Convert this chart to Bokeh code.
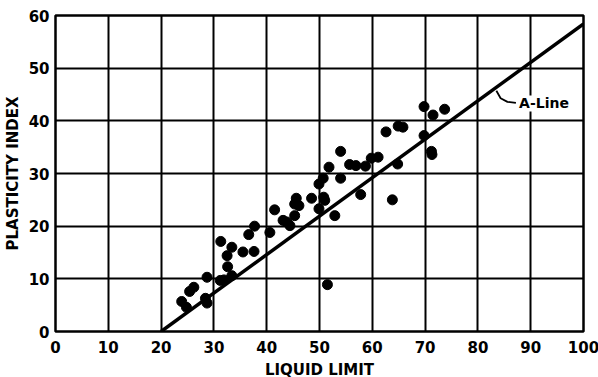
from bokeh.plotting import figure
from bokeh.models import Range1d, FixedTicker, Label
from bokeh.embed import file_html
from bokeh.resources import INLINE

# Data
liquid_limit = [23.9, 24.8, 25.4, 26.2, 28.7, 28.7, 28.4, 31.3, 31.9, 31.2, 33.4,
                32.5, 32.6, 33.4, 35.5, 37.6, 36.6, 37.7, 40.6, 41.5, 43.1, 43.8,
                44.4, 45.3, 45.3, 45.6, 46.1, 48.5, 49.9, 50.7, 50.8, 51.0, 49.9,
                52.9, 51.8, 54.0, 54.0, 55.7, 56.9, 58.7, 57.8, 59.8, 61.1, 62.6,
                64.9, 65.8, 64.8, 63.8, 51.5, 69.8, 71.5, 73.7, 69.8, 71.2, 71.3]
plasticity_index = [5.7, 4.6, 7.6, 8.4, 10.3, 5.4, 6.3, 17.1, 9.8, 9.7, 10.6,
                    14.4, 12.3, 16.0, 15.1, 15.2, 18.4, 20.0, 18.8, 23.1, 21.1, 20.8,
                    20.1, 22.0, 24.2, 25.3, 23.9, 25.3, 28.0, 29.1, 25.5, 24.9, 23.3,
                    22.0, 31.2, 34.2, 29.1, 31.7, 31.5, 31.4, 26.0, 32.9, 33.1, 37.9,
                    39.0, 38.8, 31.8, 25.0, 8.9, 42.7, 41.1, 42.2, 37.2, 34.2, 33.6]
aline_ll = [20, 100]
aline_pi = [0, 58.4]
x_ticks = [0, 10, 20, 30, 40, 50, 60, 70, 80, 90, 100]
y_ticks = [0, 10, 20, 30, 40, 50, 60]
callout_ll = [83.5, 84.3, 85.6, 87.2]
callout_pi = [45.7, 44.3, 43.6, 43.4]

FONT = "DejaVu Sans"

p = figure(frame_width=528, frame_height=316, output_backend="svg",
           toolbar_location=None, x_range=Range1d(0, 100), y_range=Range1d(0, 60),
           min_border_left=46, min_border_right=16, min_border_top=15,
           min_border_bottom=38)
p.background_fill_color = "white"
p.border_fill_color = "white"
p.outline_line_color = "black"
p.outline_line_width = 2.5

p.xaxis.ticker = FixedTicker(ticks=x_ticks)
p.yaxis.ticker = FixedTicker(ticks=y_ticks)
for ax in (p.xaxis, p.yaxis):
    ax.axis_line_color = None
    ax.major_tick_out = 0
    ax.major_tick_in = 0
    ax.minor_tick_out = 0
    ax.minor_tick_in = 0
    ax.major_label_text_font = FONT
    ax.major_label_text_font_style = "bold"
    ax.major_label_text_font_size = "15px"
    ax.major_label_text_color = "black"
    ax.axis_label_text_font = FONT
    ax.axis_label_text_font_style = "bold"
    ax.axis_label_text_font_size = "15px"
    ax.axis_label_text_color = "black"
p.xaxis.axis_label = "LIQUID LIMIT"
p.yaxis.axis_label = "PLASTICITY INDEX"
p.xaxis.major_label_standoff = 9
p.yaxis.major_label_standoff = 6
p.xaxis.axis_label_standoff = 5
p.yaxis.axis_label_standoff = 4

p.xgrid.grid_line_color = "black"
p.ygrid.grid_line_color = "black"
p.xgrid.grid_line_width = 2
p.ygrid.grid_line_width = 2
p.xgrid.grid_line_alpha = 1
p.ygrid.grid_line_alpha = 1

p.line(aline_ll, aline_pi, line_color="black", line_width=3.5)
p.line(callout_ll, callout_pi, line_color="black", line_width=1.8)
p.scatter(liquid_limit, plasticity_index, size=10, color="black")

p.add_layout(Label(x=87.8, y=43.3, text="A-Line", text_font=FONT,
                   text_font_style="bold", text_font_size="14px",
                   text_baseline="middle", text_color="black",
                   background_fill_color="white"))

open("out.html", "w").write(file_html(p, INLINE))
